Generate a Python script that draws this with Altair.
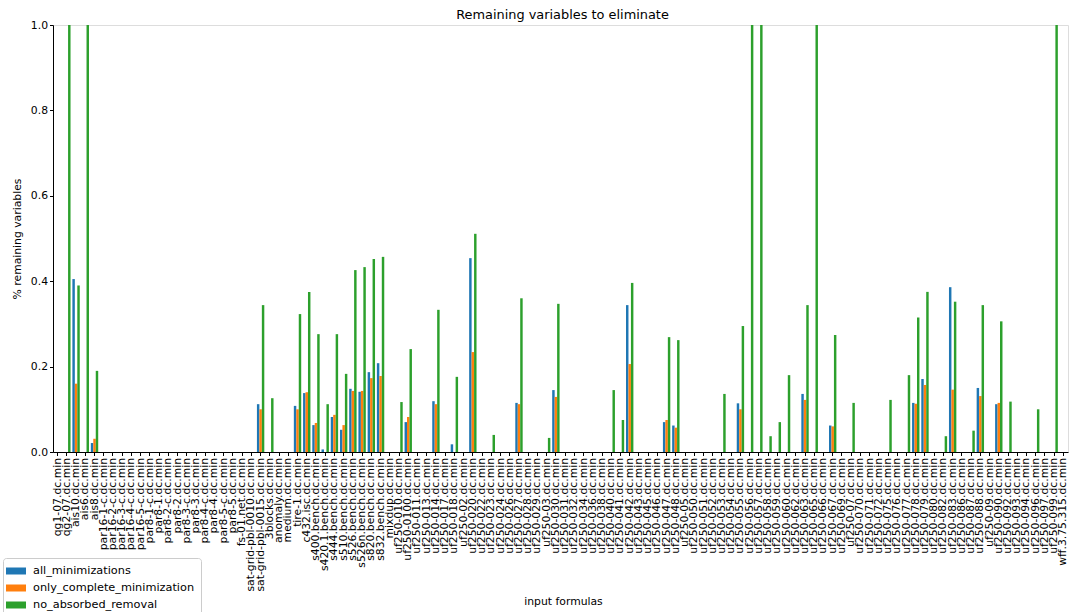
import altair as alt
import pandas as pd

categories = [
    "qg1-07.dc.min", "qg2-07.dc.min", "ais10.dc.min", "ais6.dc.min", "ais8.dc.min",
    "par16-1-c.dc.min", "par16-2-c.dc.min", "par16-3-c.dc.min", "par16-4-c.dc.min", "par16-5-c.dc.min",
    "par8-1-c.dc.min", "par8-1.dc.min", "par8-2-c.dc.min", "par8-2.dc.min", "par8-3-c.dc.min",
    "par8-3.dc.min", "par8-4-c.dc.min", "par8-4.dc.min", "par8-5-c.dc.min", "par8-5.dc.min",
    "fs-01.net.dc.min", "sat-grid-pbl-0010.dc.min", "sat-grid-pbl-0015.dc.min", "3blocks.dc.min", "anomaly.dc.min",
    "medium.dc.min", "tire-1.dc.min", "c432.isc.dc.min", "s400.bench.dc.min", "s420.1.bench.dc.min",
    "s444.bench.dc.min", "s510.bench.dc.min", "s526.bench.dc.min", "s526n.bench.dc.min", "s820.bench.dc.min",
    "s832.bench.dc.min", "mixdup.dc.min", "uf250-010.dc.min", "uf250-0100.dc.min", "uf250-011.dc.min",
    "uf250-013.dc.min", "uf250-014.dc.min", "uf250-017.dc.min", "uf250-018.dc.min", "uf250-02.dc.min",
    "uf250-020.dc.min", "uf250-022.dc.min", "uf250-023.dc.min", "uf250-024.dc.min", "uf250-026.dc.min",
    "uf250-027.dc.min", "uf250-028.dc.min", "uf250-029.dc.min", "uf250-03.dc.min", "uf250-030.dc.min",
    "uf250-031.dc.min", "uf250-032.dc.min", "uf250-034.dc.min", "uf250-036.dc.min", "uf250-038.dc.min",
    "uf250-040.dc.min", "uf250-041.dc.min", "uf250-042.dc.min", "uf250-043.dc.min", "uf250-045.dc.min",
    "uf250-046.dc.min", "uf250-047.dc.min", "uf250-048.dc.min", "uf250-05.dc.min", "uf250-050.dc.min",
    "uf250-051.dc.min", "uf250-052.dc.min", "uf250-053.dc.min", "uf250-054.dc.min", "uf250-055.dc.min",
    "uf250-056.dc.min", "uf250-057.dc.min", "uf250-058.dc.min", "uf250-059.dc.min", "uf250-060.dc.min",
    "uf250-062.dc.min", "uf250-063.dc.min", "uf250-065.dc.min", "uf250-066.dc.min", "uf250-067.dc.min",
    "uf250-069.dc.min", "uf250-07.dc.min", "uf250-070.dc.min", "uf250-071.dc.min", "uf250-072.dc.min",
    "uf250-075.dc.min", "uf250-076.dc.min", "uf250-077.dc.min", "uf250-078.dc.min", "uf250-079.dc.min",
    "uf250-080.dc.min", "uf250-082.dc.min", "uf250-083.dc.min", "uf250-086.dc.min", "uf250-087.dc.min",
    "uf250-088.dc.min", "uf250-09.dc.min", "uf250-090.dc.min", "uf250-092.dc.min", "uf250-093.dc.min",
    "uf250-094.dc.min", "uf250-096.dc.min", "uf250-097.dc.min", "uf250-099.dc.min", "wff.3.75.315.dc.min",
]

all_minimizations = [
    0, 0, 0.405, 0, 0.021, 0, 0, 0, 0, 0,
    0, 0, 0, 0, 0, 0, 0, 0, 0, 0,
    0, 0, 0.112, 0, 0, 0, 0.108, 0.138, 0.063, 0.006,
    0.082, 0.052, 0.148, 0.141, 0.187, 0.208, 0, 0, 0.070, 0,
    0, 0.119, 0, 0.018, 0, 0.454, 0, 0, 0, 0,
    0.115, 0, 0, 0, 0.145, 0, 0, 0, 0, 0,
    0, 0, 0.344, 0, 0, 0, 0.070, 0.062, 0, 0,
    0, 0, 0, 0, 0.114, 0, 0, 0, 0, 0,
    0, 0.136, 0, 0, 0.062, 0, 0, 0, 0, 0,
    0, 0, 0, 0.115, 0.171, 0, 0, 0.386, 0, 0,
    0.150, 0, 0.112, 0, 0, 0, 0, 0, 0, 0,
]

only_complete_minimization = [
    0, 0, 0.160, 0, 0.031, 0, 0, 0, 0, 0,
    0, 0, 0, 0, 0, 0, 0, 0, 0, 0,
    0, 0, 0.100, 0, 0, 0, 0.100, 0.140, 0.068, 0,
    0.087, 0.063, 0.143, 0.143, 0.173, 0.178, 0, 0, 0.082, 0,
    0, 0.112, 0, 0, 0, 0.234, 0, 0, 0, 0,
    0.112, 0, 0, 0, 0.129, 0, 0, 0, 0, 0,
    0, 0, 0.206, 0, 0, 0, 0.075, 0.057, 0, 0,
    0, 0, 0, 0, 0.100, 0, 0, 0, 0, 0,
    0, 0.122, 0, 0, 0.060, 0, 0, 0, 0, 0,
    0, 0, 0, 0.113, 0.157, 0, 0, 0.146, 0, 0,
    0.131, 0, 0.115, 0, 0, 0, 0, 0, 0, 0,
]

no_absorbed_removal = [
    0, 1.0, 0.390, 1.0, 0.190, 0, 0, 0, 0, 0,
    0, 0, 0, 0, 0, 0, 0, 0, 0, 0,
    0, 0, 0.344, 0.126, 0, 0, 0.323, 0.375, 0.276, 0.112,
    0.276, 0.183, 0.426, 0.433, 0.452, 0.457, 0, 0.117, 0.241, 0,
    0, 0.333, 0, 0.176, 0, 0.511, 0, 0.040, 0, 0,
    0.360, 0, 0, 0.033, 0.347, 0, 0, 0, 0, 0,
    0.145, 0.075, 0.396, 0, 0, 0, 0.269, 0.262, 0, 0,
    0, 0, 0.136, 0, 0.295, 1.0, 1.0, 0.037, 0.070, 0.180,
    0, 0.344, 1.0, 0, 0.274, 0, 0.115, 0, 0, 0,
    0.122, 0, 0.180, 0.315, 0.375, 0, 0.037, 0.352, 0, 0.050,
    0.344, 0, 0.306, 0.118, 0, 0, 0.100, 0, 1.0, 0,
]

series_names = ["all_minimizations", "only_complete_minimization", "no_absorbed_removal"]
series_colors = ["#1f77b4", "#ff7f0e", "#2ca02c"]
y_ticks = [0.0, 0.2, 0.4, 0.6, 0.8, 1.0]

rows = []
for name, vals in zip(series_names, [all_minimizations, only_complete_minimization, no_absorbed_removal]):
    for cat, v in zip(categories, vals):
        rows.append({"formula": cat, "series": name, "value": v})
df = pd.DataFrame(rows)

FONT = "DejaVu Sans"
W = 1015
H = 427

chart = alt.Chart(df).mark_bar().encode(
    x=alt.X(
        "formula:N",
        sort=categories,
        scale=alt.Scale(paddingInner=0.2, paddingOuter=0.1),
        axis=alt.Axis(
            title="input formulas",
            labelAngle=-90,
            labelFont=FONT,
            labelFontSize=10.8,
            labelColor="black",
            labelOverlap=False,
            labelLimit=0,
            labelPadding=2,
            tickColor="black",
            tickSize=3.5,
            domainColor="black",
            titleFont=FONT,
            titleFontSize=10.8,
            titleFontWeight="normal",
            titleColor="black",
            titleX=510,
            titleAlign="center",
            titleY=149,
            titleBaseline="middle",
        ),
    ),
    xOffset=alt.XOffset("series:N", sort=series_names),
    y=alt.Y(
        "value:Q",
        scale=alt.Scale(domain=[0, 1], nice=False),
        axis=alt.Axis(
            title="% remaining variables",
            values=y_ticks,
            format=".1f",
            grid=False,
            labelFont=FONT,
            labelFontSize=10.8,
            labelColor="black",
            labelPadding=2,
            tickColor="black",
            tickSize=3.5,
            domainColor="black",
            titleFont=FONT,
            titleFontSize=10.8,
            titleFontWeight="normal",
            titleColor="black",
            titlePadding=8,
        ),
    ),
    color=alt.Color(
        "series:N",
        sort=series_names,
        scale=alt.Scale(domain=series_names, range=series_colors),
        legend=alt.Legend(
            title=None,
            orient="none",
            legendX=-50,
            legendY=533,
            direction="vertical",
            symbolType="M-1.43,-0.5H1.43V0.5H-1.43Z",
            symbolSize=196,
            symbolStrokeWidth=0,
            symbolOpacity=1,
            labelFont=FONT,
            labelFontSize=11.3,
            labelColor="black",
            labelLimit=0,
            labelOffset=10,
            rowPadding=4,
            padding=6,
            strokeColor="#cccccc",
            fillColor="white",
            cornerRadius=3,
        ),
    ),
).properties(
    width=W,
    height=H,
    title=alt.TitleParams(
        "Remaining variables to eliminate",
        font=FONT,
        fontSize=12.9,
        fontWeight="normal",
        color="black",
        anchor="middle",
        offset=6,
        dy=9,
        dx=2,
    ),
    padding={"left": 53, "top": 25, "right": 2, "bottom": 160},
    autosize=alt.AutoSizeParams(type="none"),
).configure_view(stroke="black", strokeWidth=1).configure(background="white")

chart.save("out.html", embed_options={"renderer": "svg", "actions": False})
